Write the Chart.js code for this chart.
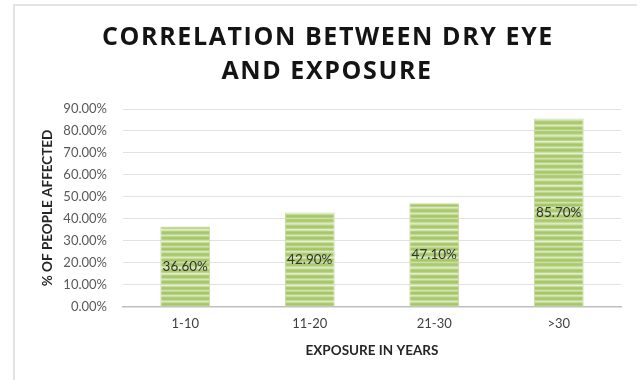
<!DOCTYPE html>
<html>
<head>
<meta charset="utf-8">
<script src="https://cdn.jsdelivr.net/npm/chart.js@4/dist/chart.umd.min.js"></script>
<style>
  html, body { margin: 0; padding: 0; background: #fff; }
  #wrap { position: relative; width: 637px; height: 380px; }
  #frame { position: absolute; left: 13px; top: 4px; width: 624px; height: 376px;
           border-left: 2px solid #e3e3e3; border-top: 2px solid #e3e3e3; box-sizing: border-box; }
  canvas { position: absolute; left: 0; top: 0; }
</style>
</head>
<body>
<div id="wrap">
  <div id="frame"></div>
  <canvas id="c" width="637" height="380"></canvas>
</div>
<script>
const titleLines = ['CORRELATION BETWEEN DRY EYE', 'AND EXPOSURE'];
const categories = ['1-10', '11-20', '21-30', '>30'];
const affected = [36.6, 42.9, 47.1, 85.7];
const yAxisTitle = '% OF PEOPLE AFFECTED';
const xAxisTitle = 'EXPOSURE IN YEARS';

function makePattern() {
  const p = document.createElement('canvas');
  p.width = 8; p.height = 44;
  const g = p.getContext('2d');
  const stripes = ['#a9c96c','#b0cd76','#c4dc97','#dceac4','#cfe2ac','#b6d182','#a6c668','#acc96f','#bcd58b','#e2edcf','#d2e4b2','#b3cf7c',
                   '#a7c76a','#a9c86c','#c0d992','#d7e7bc','#bdd68d','#aac96d','#a5c567','#b5d07f','#cde0a8','#e6f0d6','#c6dd9d','#adca72',
                   '#a8c76b','#b2ce7a','#d0e2ae','#bfd78f','#a9c86c','#a4c466','#b9d386','#d9e8c0','#c9dea2','#b0cd77',
                   '#a7c769','#aecb74','#c2da95','#dbe9c2','#c5dc9b','#abc970','#a6c669','#b4cf7d','#cae0a5','#b1ce78'];
  for (let i = 0; i < p.height; i++) {
    g.fillStyle = stripes[i % stripes.length];
    g.fillRect(0, i, p.width, 1);
  }
  return g.createPattern(p, 'repeat');
}

const valueLabels = {
  id: 'valueLabels',
  afterDatasetsDraw(chart) {
    const ctx = chart.ctx;
    const meta = chart.getDatasetMeta(0);
    ctx.save();
    ctx.font = '13.5px Lato, "Liberation Sans", sans-serif';
    ctx.fillStyle = '#333';
    ctx.textAlign = 'center';
    ctx.textBaseline = 'middle';
    meta.data.forEach((bar, i) => {
      const v = chart.data.datasets[0].data[i];
      const y = (bar.y + bar.base) / 2;
      ctx.fillText(v.toFixed(2) + '%', bar.x, y);
    });
    ctx.restore();
  }
};

const chartTitle = {
  id: 'chartTitle',
  afterDraw(chart) {
    const ctx = chart.ctx;
    ctx.save();
    ctx.font = 'bold 25px "Open Sans", Lato, sans-serif';
    ctx.fillStyle = '#141414';
    ctx.textAlign = 'center';
    ctx.textBaseline = 'middle';
    if ('letterSpacing' in ctx) ctx.letterSpacing = '1.6px';
    ctx.fillText(titleLines[0], 328, 38);
    ctx.fillText(titleLines[1], 327, 72);
    ctx.restore();
  }
};

const ctx = document.getElementById('c').getContext('2d');
new Chart(ctx, {
  type: 'bar',
  data: {
    labels: categories,
    datasets: [{
      data: affected,
      backgroundColor: makePattern(),
      borderColor: '#c3da98',
      borderWidth: 1,
      categoryPercentage: 0.8,
      barPercentage: 0.5
    }]
  },
  options: {
    responsive: false,
    animation: false,
    layout: { padding: { left: 0, right: 16, top: 109, bottom: 23 } },
    plugins: {
      legend: { display: false },
      tooltip: { enabled: false },
      title: { display: false }
    },
    scales: {
      x: {
        grid: { display: false, drawTicks: false },
        border: { display: true, color: '#bfbfbf', width: 1.5 },
        ticks: { color: '#404040', font: { family: 'Lato, sans-serif', size: 13 }, padding: 9 },
        title: { display: true, text: xAxisTitle, color: '#262626',
                 font: { family: 'Lato, sans-serif', size: 13.5, weight: 'bold', lineHeight: 1.0 }, padding: { top: 3, bottom: 0 } }
      },
      y: {
        min: 0, max: 90,
        ticks: { stepSize: 10, color: '#595959', padding: 16,
                 font: { family: 'Lato, sans-serif', size: 13 },
                 callback: v => v.toFixed(2) + '%' },
        grid: { color: '#e2e2e2', drawTicks: false },
        border: { display: false },
        title: { display: true, text: yAxisTitle, color: '#262626',
                 font: { family: 'Lato, sans-serif', size: 13.5, weight: 'bold' }, padding: { top: 40, bottom: 0 } },
        afterFit(scale) { scale.width = 123; }
      }
    }
  },
  plugins: [valueLabels, chartTitle]
});
</script>
</body>
</html>
